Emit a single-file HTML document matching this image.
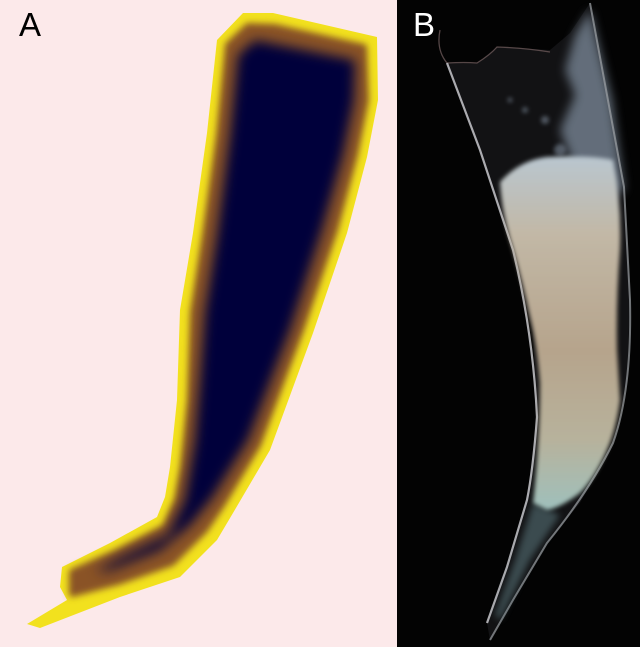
<!DOCTYPE html>
<html><head><meta charset="utf-8"><style>
html,body{margin:0;padding:0;background:#000;}
svg{display:block;}
</style></head><body>
<svg width="640" height="647" viewBox="0 0 640 647" xmlns="http://www.w3.org/2000/svg">
<defs>
<filter id="bl3" x="-20%" y="-20%" width="140%" height="140%"><feGaussianBlur stdDeviation="3.5"/></filter>
<filter id="bl2" x="-20%" y="-20%" width="140%" height="140%"><feGaussianBlur stdDeviation="2"/></filter>
<filter id="bl6" x="-30%" y="-30%" width="160%" height="160%"><feGaussianBlur stdDeviation="6"/></filter>
<filter id="bl5" x="-30%" y="-30%" width="160%" height="160%"><feGaussianBlur stdDeviation="5"/></filter>
<linearGradient id="gB" x1="0" y1="0" x2="0" y2="1">
<stop offset="0" stop-color="#b9c6cf"/><stop offset="0.22" stop-color="#c2b8a6"/><stop offset="0.55" stop-color="#b6a48c"/><stop offset="0.8" stop-color="#b7b29c"/><stop offset="1" stop-color="#9fc0bc"/>
</linearGradient>
</defs>
<g>
<rect x="0" y="0" width="397" height="647" fill="#fce9ea"/>
<path d="M243,13 L273,13 L377,37 L378,100 L367,157 L347,233 L313,333 L270,450 L233,513 L217,540 L180,577 L120,597 L40,628 L27,624 L67,600 L60,587 L62,567 L110,543 L157,517 L165,497 L170,467 L177,400 L180,310 L193,233 L207,133 L217,40 Z" fill="#f2e11e"/>
<path d="M248,26 L275,27 L364,47 L366,100 L355,155 L335,230 L301,330 L258,445 L222,505 L205,530 L172,563 L118,582 L72,594 L72,572 L115,553 L165,527 L177,500 L183,467 L190,400 L193,312 L205,235 L219,135 L228,45 Z" fill="#8a5228" stroke="#8a5228" stroke-width="6" stroke-linejoin="round" filter="url(#bl3)"/>
<path d="M255,40 L355,60 L354,100 L343,155 L322,230 L290,330 L248,440 L212,498 L190,525 L160,550 L110,570 L95,572 L120,558 L168,535 L185,500 L195,440 L200,380 L205,312 L217,235 L230,135 L238,55 Z" fill="#05023a" filter="url(#bl6)"/>
<text x="19" y="36" font-family="Liberation Sans, sans-serif" font-size="33" fill="#000">A</text>
</g>
<g>
<rect x="397" y="0" width="243" height="647" fill="#030303"/>
<path d="M440,30 L447,63 L480,150 L513,250 L533,333 L537,417 L527,500 L507,567 L487,623 L490,640 L513,600 L547,543 L580,503 L613,443 L627,383 L630,300 L624,187 L590,3 L570,33 L550,50 L497,47 L477,63 L447,63 Z" fill="#121214"/>
<path d="M440,30 Q436,50 447,63 Q465,62 477,63 Q490,55 497,47 Q525,48 550,52" fill="none" stroke="#6a5858" stroke-width="1.3" opacity="0.8"/>
<path d="M575,35 L590,10 L612,100 L624,190 L600,200 L575,170 L560,130 L575,95 L565,70 Z" fill="#7e8c9c" opacity="0.75" filter="url(#bl5)"/>
<g fill="#7b8898" opacity="0.6" filter="url(#bl2)">
<circle cx="525" cy="110" r="3"/><circle cx="545" cy="120" r="4"/><circle cx="510" cy="100" r="2.5"/><circle cx="560" cy="150" r="6"/>
</g>
<path d="M447,63 L480,150 L513,250 Q533,333 537,417 Q533,470 527,500 L507,567 L487,623" fill="none" stroke="#c8c8cc" stroke-width="2.2" opacity="0.85"/>
<path d="M590,3 L624,187 L630,300 Q632,390 613,443 Q590,490 547,543 L513,600 L490,640" fill="none" stroke="#a0a4a8" stroke-width="2" opacity="0.7"/>
<path d="M533,503 L560,515 L530,560 L500,620 L495,615 L515,560 Z" fill="#5d7a80" opacity="0.55" filter="url(#bl3)"/>
<path d="M500,182 Q520,160 547,157 Q590,155 613,160 Q622,205 620,250 Q616,300 617,350 L620,400 Q616,430 607,450 Q595,478 580,493 Q560,508 547,510 L533,503 Q540,440 540,383 Q537,345 530,317 Q522,280 513,250 Q502,215 500,182 Z" fill="url(#gB)" filter="url(#bl2)"/>
<text x="413" y="36" font-family="Liberation Sans, sans-serif" font-size="33" fill="#fff">B</text>
</g>
</svg>
</body></html>
